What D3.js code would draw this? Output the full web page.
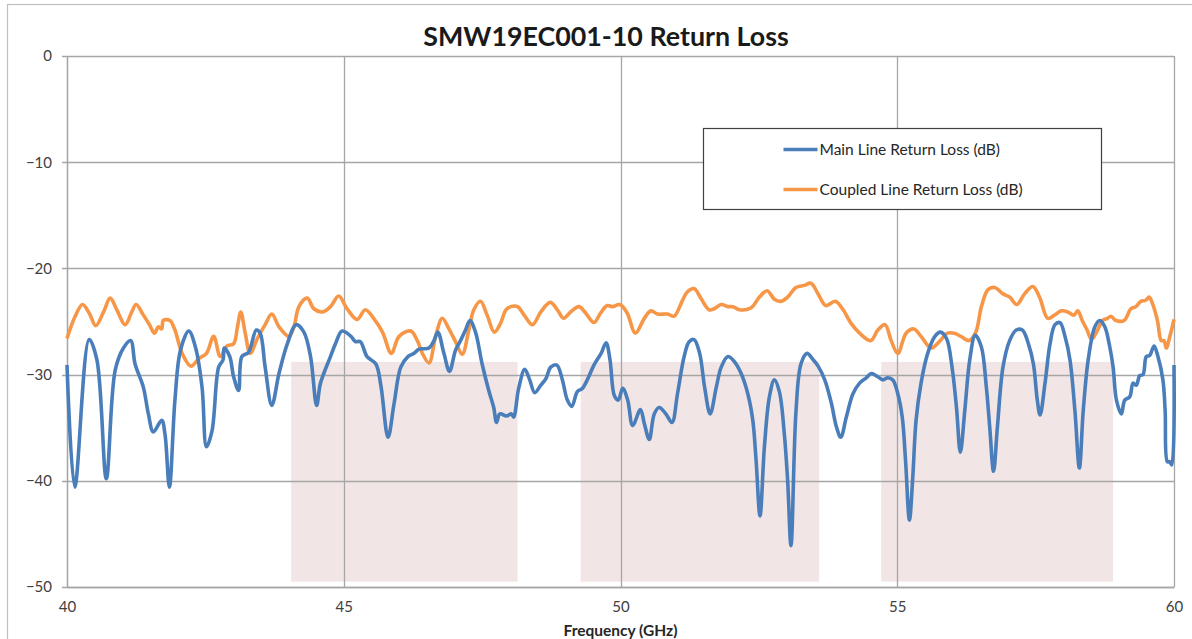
<!DOCTYPE html>
<html>
<head>
<meta charset="utf-8">
<script src="https://cdn.jsdelivr.net/npm/d3@7"></script>
<style>
  body { margin: 0; background: #fff; }
  text { font-family: Lato, "Open Sans", sans-serif; }
</style>
</head>
<body>
<div id="chart"></div>
<script>
// chart values
var xTicks = [40, 45, 50, 55, 60];
var yTicks = [0, -10, -20, -30, -40, -50];

var mainFreq = [40.00,40.14,40.40,40.54,40.71,40.87,41.02,41.15,41.23,41.38,41.47,41.56,41.71,41.77,41.85,41.95,42.05,42.20,42.32,42.44,42.52,42.62,42.74,42.82,42.84,42.94,43.01,43.10,43.16,43.28,43.42,43.49,43.58,43.70,43.83,43.98,44.14,44.28,44.40,44.51,44.58,44.76,44.85,44.97,45.13,45.21,45.30,45.42,45.58,45.67,45.80,45.91,46.03,46.16,46.27,46.36,46.54,46.63,46.70,46.81,46.91,47.02,47.11,47.20,47.28,47.38,47.50,47.62,47.71,47.76,47.82,47.94,48.03,48.07,48.16,48.27,48.36,48.45,48.56,48.65,48.74,48.85,48.95,49.04,49.12,49.22,49.31,49.40,49.52,49.65,49.74,49.81,49.89,49.96,50.04,50.13,50.22,50.36,50.43,50.52,50.61,50.70,50.82,50.93,51.03,51.15,51.24,51.33,51.43,51.52,51.62,51.73,51.82,51.94,52.06,52.18,52.30,52.39,52.45,52.52,52.60,52.69,52.78,52.87,52.96,53.02,53.08,53.17,53.26,53.37,53.48,53.57,53.69,53.81,53.90,53.98,54.08,54.20,54.32,54.44,54.53,54.65,54.74,54.83,54.92,55.01,55.09,55.15,55.22,55.28,55.34,55.43,55.55,55.68,55.78,55.89,55.99,56.07,56.14,56.22,56.31,56.41,56.52,56.61,56.67,56.74,56.81,56.91,57.03,57.15,57.26,57.37,57.46,57.53,57.58,57.67,57.76,57.85,57.94,58.03,58.12,58.21,58.29,58.36,58.45,58.57,58.66,58.75,58.84,58.90,58.96,59.05,59.11,59.20,59.26,59.32,59.38,59.44,59.50,59.56,59.64,59.71,59.80,59.84,59.88,59.92,59.96,60.00];
var mainDb = [-29.1,-40.6,-26.7,-28.6,-39.8,-29.6,-27.5,-26.8,-29.0,-31.2,-33.7,-35.4,-34.3,-35.6,-40.6,-32.4,-27.7,-25.9,-27.4,-31.2,-36.8,-35.3,-29.3,-28.6,-27.5,-28.3,-30.2,-31.5,-28.3,-27.9,-25.8,-26.1,-29.3,-32.9,-29.9,-27.1,-25.3,-26.0,-28.3,-32.9,-30.8,-28.3,-27.1,-25.9,-26.4,-26.9,-26.9,-28.3,-29.0,-31.0,-35.9,-32.7,-29.3,-28.3,-28.0,-27.6,-27.5,-26.8,-26.0,-28.0,-29.7,-27.7,-26.8,-25.8,-24.9,-26.0,-29.0,-31.5,-33.1,-34.5,-33.7,-33.9,-33.7,-34.0,-31.3,-29.5,-30.5,-31.7,-31.0,-30.4,-29.3,-29.1,-30.5,-32.4,-33.0,-31.6,-31.3,-30.5,-29.1,-28.0,-27.0,-28.6,-32.0,-32.4,-31.3,-32.4,-34.8,-33.3,-34.6,-36.1,-33.7,-33.1,-33.7,-34.5,-31.8,-28.3,-26.9,-26.7,-28.0,-31.2,-33.7,-31.2,-29.3,-28.3,-28.8,-29.9,-31.8,-34.3,-38.1,-43.3,-36.8,-32.1,-30.5,-31.6,-35.6,-40.0,-46.1,-33.5,-29.0,-28.0,-28.6,-29.2,-30.5,-32.7,-34.9,-35.9,-34.0,-31.8,-30.8,-30.3,-29.9,-30.2,-30.5,-30.3,-30.5,-31.8,-34.0,-38.1,-43.7,-39.7,-34.3,-30.8,-28.0,-26.4,-26.0,-26.6,-29.3,-33.1,-37.3,-33.4,-28.6,-26.3,-27.4,-31.2,-34.9,-39.1,-34.9,-29.3,-26.8,-25.8,-25.8,-27.1,-29.0,-32.4,-33.8,-30.8,-27.1,-25.3,-25.1,-26.4,-28.6,-33.4,-38.8,-33.4,-28.6,-25.5,-24.9,-25.5,-27.4,-29.3,-32.4,-33.7,-32.4,-32.1,-30.8,-31.0,-30.1,-30.0,-28.3,-28.2,-27.3,-28.3,-30.5,-33.4,-38.2,-38.2,-38.5,-29.1];

var coupledFreq = [40.00,40.14,40.28,40.40,40.52,40.66,40.78,40.90,41.05,41.17,41.25,41.38,41.49,41.58,41.65,41.71,41.74,41.86,41.95,42.08,42.24,42.38,42.52,42.65,42.77,42.89,43.01,43.08,43.14,43.22,43.31,43.44,43.58,43.70,43.83,44.01,44.10,44.19,44.34,44.46,44.61,44.76,44.91,45.06,45.24,45.39,45.54,45.70,45.86,46.00,46.21,46.33,46.42,46.54,46.66,46.78,46.90,47.02,47.14,47.26,47.35,47.47,47.59,47.72,47.83,47.93,48.02,48.14,48.26,48.41,48.56,48.73,48.86,48.97,49.10,49.25,49.37,49.52,49.64,49.76,49.85,49.99,50.12,50.27,50.43,50.55,50.67,50.85,50.97,51.12,51.21,51.33,51.45,51.60,51.69,51.82,51.94,52.03,52.15,52.36,52.51,52.65,52.78,52.90,53.02,53.17,53.32,53.44,53.57,53.71,53.88,54.01,54.17,54.32,54.52,54.65,54.78,54.89,55.01,55.16,55.30,55.43,55.61,55.76,55.91,56.03,56.15,56.30,56.42,56.52,56.64,56.76,56.91,57.03,57.16,57.30,57.45,57.57,57.72,57.84,57.96,58.08,58.19,58.26,58.35,58.43,58.51,58.62,58.71,58.80,58.86,58.95,59.10,59.22,59.31,59.40,59.49,59.55,59.61,59.70,59.77,59.82,59.86,59.93,60.00];
var coupledDb = [-26.6,-24.6,-23.4,-24.2,-25.4,-24.1,-22.8,-23.9,-25.3,-24.1,-23.4,-24.4,-25.3,-26.1,-25.5,-25.7,-24.9,-24.9,-25.8,-28.0,-29.2,-28.5,-28.0,-26.4,-28.3,-27.3,-27.1,-25.5,-24.1,-26.1,-28.0,-26.6,-25.3,-24.3,-25.5,-26.4,-25.5,-23.6,-22.8,-23.8,-24.1,-23.6,-22.6,-23.8,-24.8,-23.9,-24.7,-26.0,-28.0,-26.4,-25.9,-26.8,-28.0,-28.9,-26.4,-24.7,-25.7,-26.9,-28.1,-25.8,-23.9,-23.1,-24.4,-26.0,-25.2,-23.9,-23.6,-23.6,-24.4,-25.3,-24.1,-23.2,-23.9,-24.7,-24.1,-23.6,-24.2,-25.1,-24.2,-23.5,-23.6,-23.4,-24.2,-26.1,-24.7,-24.0,-24.3,-24.3,-24.5,-23.0,-22.2,-21.9,-22.8,-23.9,-23.8,-23.4,-23.6,-23.6,-23.9,-23.7,-22.7,-22.1,-22.9,-23.1,-22.7,-21.8,-21.6,-21.4,-22.4,-23.5,-23.1,-23.8,-25.2,-26.1,-26.8,-25.8,-25.3,-26.8,-28.0,-26.1,-25.7,-26.4,-27.5,-26.9,-26.1,-26.1,-26.4,-26.8,-26.0,-23.6,-22.0,-21.8,-22.4,-22.7,-23.4,-22.4,-21.7,-22.7,-24.7,-24.4,-24.0,-24.1,-24.4,-24.0,-25.0,-25.8,-26.7,-25.8,-24.9,-24.7,-24.5,-24.9,-24.9,-23.8,-23.6,-23.1,-23.0,-22.7,-23.3,-24.9,-26.8,-26.8,-27.5,-26.3,-24.8];

// shaded frequency bands
var bandStart = [44.05, 49.28, 54.71];
var bandEnd = [48.14, 53.59, 58.90];
var bandTop = -28.8;
var bandBottom = -49.5;

var seriesNames = ["Main Line Return Loss (dB)", "Coupled Line Return Loss (dB)"];
var seriesColors = ["#4a7ebb", "#f79646"];

var W = 1192, H = 639;
var margin = {top: 56, right: 18, bottom: 52, left: 67};
var width = W - margin.left - margin.right,
    height = H - margin.top - margin.bottom;

var svg = d3.select("#chart").append("svg")
    .attr("width", W)
    .attr("height", H);

// chart frame
svg.append("rect")
    .attr("x", 7.5).attr("y", 4.5)
    .attr("width", 1300).attr("height", 800)
    .attr("fill", "none")
    .attr("stroke", "#bfbfbf")
    .attr("stroke-width", 1.2);

svg.append("text")
    .attr("x", 606).attr("y", 46)
    .attr("text-anchor", "middle")
    .attr("font-size", 26.8)
    .attr("font-weight", "bold")
    .attr("fill", "#1a1a1a")
    .text("SMW19EC001-10 Return Loss");

var g = svg.append("g")
    .attr("transform", "translate(" + margin.left + "," + margin.top + ")");

var x = d3.scaleLinear().domain([40, 60]).range([0, width]);
var y = d3.scaleLinear().domain([-50, 0]).range([height, 0]);

// bands
g.selectAll(".band")
    .data(bandStart)
    .enter().append("rect")
    .attr("class", "band")
    .attr("x", function (d) { return x(d); })
    .attr("width", function (d, i) { return x(bandEnd[i]) - x(d); })
    .attr("y", y(bandTop))
    .attr("height", y(bandBottom) - y(bandTop))
    .attr("fill", "#f2e5e5");

// grid
g.selectAll(".hgrid")
    .data(yTicks)
    .enter().append("line")
    .attr("x1", -5).attr("x2", width)
    .attr("y1", function (d) { return Math.round(y(d)) + 0.5; })
    .attr("y2", function (d) { return Math.round(y(d)) + 0.5; })
    .attr("stroke", "#a6a6a6")
    .attr("stroke-width", 1.3);

g.selectAll(".vgrid")
    .data(xTicks)
    .enter().append("line")
    .attr("y1", 0).attr("y2", height)
    .attr("x1", function (d) { return Math.round(x(d)) + 0.5; })
    .attr("x2", function (d) { return Math.round(x(d)) + 0.5; })
    .attr("stroke", "#a6a6a6")
    .attr("stroke-width", 1.3);

// axes
var xAxis = g.append("g")
    .attr("transform", "translate(0," + height + ")")
    .call(d3.axisBottom(x).tickValues(xTicks).tickSize(0).tickPadding(14));
var yAxis = g.append("g")
    .call(d3.axisLeft(y).tickValues(yTicks).tickSize(0).tickPadding(15));
[xAxis, yAxis].forEach(function (a) {
    a.select(".domain").attr("stroke", "#a6a6a6").attr("stroke-width", 1.3);
    a.selectAll("text")
        .attr("font-family", "Lato, 'Open Sans', sans-serif")
        .attr("font-size", 15)
        .attr("fill", "#404040");
});

svg.append("text")
    .attr("x", margin.left + width / 2).attr("y", 636)
    .attr("text-anchor", "middle")
    .attr("font-size", 15.5)
    .attr("font-weight", "bold")
    .attr("fill", "#262626")
    .text("Frequency (GHz)");

// lines
var line = d3.line()
    .x(function (d) { return x(d[0]); })
    .y(function (d) { return y(d[1]); })
    .curve(d3.curveCatmullRom.alpha(0.5));

var series = [
    d3.zip(mainFreq, mainDb),
    d3.zip(coupledFreq, coupledDb)
];

// coupled drawn first so main sits on top
[1, 0].forEach(function (i) {
    g.append("path")
        .datum(series[i])
        .attr("fill", "none")
        .attr("stroke", seriesColors[i])
        .attr("stroke-width", 3.6)
        .attr("stroke-linejoin", "round")
        .attr("d", line);
});

// legend
var legend = svg.append("g").attr("transform", "translate(703.5,128.5)");
legend.append("rect")
    .attr("width", 398).attr("height", 81)
    .attr("fill", "#fff")
    .attr("stroke", "#404040")
    .attr("stroke-width", 1.2);
seriesNames.forEach(function (name, i) {
    var ly = 21 + i * 40;
    legend.append("line")
        .attr("x1", 80).attr("x2", 114)
        .attr("y1", ly).attr("y2", ly)
        .attr("stroke", seriesColors[i])
        .attr("stroke-width", 3.6);
    legend.append("text")
        .attr("x", 116).attr("y", ly + 5.5)
        .attr("font-size", 15.5)
        .attr("fill", "#262626")
        .text(name);
});
</script>
</body>
</html>
